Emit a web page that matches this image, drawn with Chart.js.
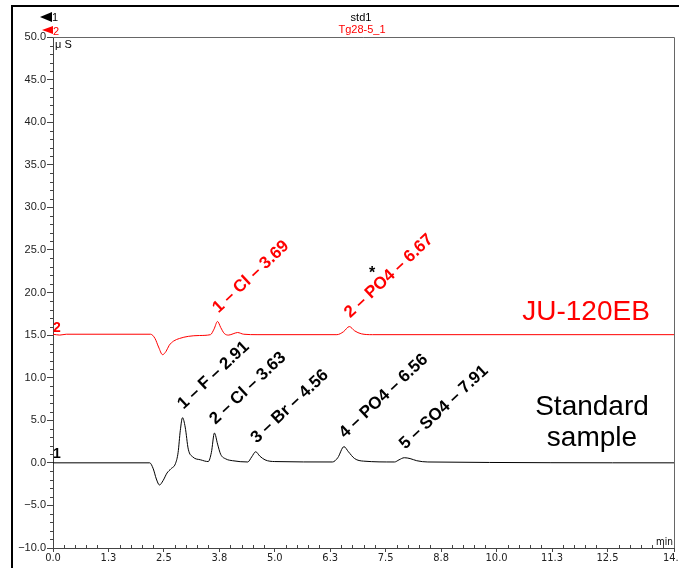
<!DOCTYPE html>
<html><head><meta charset="utf-8">
<script src="https://cdn.jsdelivr.net/npm/chart.js@4.4.1/dist/chart.umd.min.js"></script>
<style>html,body{margin:0;padding:0;background:#fff;}canvas{display:block;}</style>
</head><body>
<canvas id="c" width="679" height="568"></canvas>
<script>
// ---- data ----
const blackTime   = [0, 2.18, 2.26, 2.33, 2.40, 2.48, 2.57, 2.66, 2.76, 2.82, 2.87, 2.92, 2.98, 3.05, 3.15, 3.33, 3.50, 3.57, 3.64, 3.71, 3.78, 3.90, 4.05, 4.39, 4.48, 4.57, 4.66, 4.78, 5.0, 6.3, 6.42, 6.56, 6.66, 6.80, 7.0, 7.7, 7.8, 7.92, 8.05, 8.2, 8.45, 14];
const blackSignal = [0, 0, -0.7, -1.9, -2.6, -2.1, -1.2, -0.7, -0.1, 1.2, 3.8, 5.3, 4.2, 1.6, 0.7, 0.35, 0.15, 1.2, 3.5, 2.2, 1.0, 0.45, 0.25, 0.1, 0.7, 1.3, 0.8, 0.35, 0.15, 0.1, 0.6, 1.9, 1.3, 0.5, 0.2, 0.1, 0.35, 0.6, 0.5, 0.25, 0.1, 0.0];
const redTime     = [0, 0.15, 0.3, 2.2, 2.3, 2.38, 2.47, 2.55, 2.62, 2.72, 2.85, 3.05, 3.3, 3.55, 3.63, 3.71, 3.78, 3.86, 3.96, 4.06, 4.16, 4.30, 4.6, 6.4, 6.55, 6.68, 6.8, 6.95, 7.2, 14];
const redSignal   = [15.1, 15.0, 15.1, 15.1, 14.6, 13.6, 12.7, 13.1, 13.8, 14.3, 14.6, 14.85, 14.95, 15.05, 15.7, 16.6, 15.9, 15.2, 15.0, 15.15, 15.3, 15.1, 15.05, 15.05, 15.4, 16.0, 15.5, 15.15, 15.05, 15.05];

const blackPeakLabels  = ['1 – F – 2.91', '2 – Cl – 3.63', '3 – Br – 4.56', '4 – PO4 – 6.56', '5 – SO4 – 7.91'];
const blackPeakTimes   = [2.92, 3.64, 4.57, 6.56, 7.92];
const blackPeakHeights = [5.3, 3.5, 1.3, 1.9, 0.6];
const redPeakLabels    = ['1 – Cl – 3.69', '2 – PO4 – 6.67'];
const redPeakTimes     = [3.71, 6.68];
const redPeakHeights   = [16.6, 16.0];

const xTickValues = [0, 1.25, 2.5, 3.75, 5, 6.25, 7.5, 8.75, 10, 11.25, 12.5, 14];
const xTickLabels = ['0.0', '1.3', '2.5', '3.8', '5.0', '6.3', '7.5', '8.8', '10.0', '11.3', '12.5', '14.0'];
const yTickValues = [-10, -5, 0, 5, 10, 15, 20, 25, 30, 35, 40, 45, 50];
const yTickLabels = ['−10.0', '−5.0', '0.0', '5.0', '10.0', '15.0', '20.0', '25.0', '30.0', '35.0', '40.0', '45.0', '50.0'];

const seriesNames = ['std1', 'Tg28-5_1'];
const sampleNames = ['JU-120EB', 'Standard', 'sample'];

// ---- chart ----
const AXIS_FONT = "Arial, 'Liberation Sans', sans-serif";
const NARROW_FONT = "'Liberation Sans Narrow', 'DejaVu Sans Condensed', Arial, sans-serif";

const decor = {
  id: 'decor',
  beforeDraw(chart) {
    const ctx = chart.ctx;
    ctx.save();
    ctx.fillStyle = '#fff';
    ctx.fillRect(0, 0, chart.width, chart.height);
    ctx.restore();
  },
  afterDraw(chart) {
    const ctx = chart.ctx;
    const xs = chart.scales.x, ys = chart.scales.y;
    const a = chart.chartArea;
    ctx.save();
    // outer frame
    ctx.fillStyle = '#000';
    ctx.fillRect(11, 5, 668, 2);
    ctx.fillRect(11, 5, 2, 563);
    // plot box top & right
    ctx.strokeStyle = '#666';
    ctx.lineWidth = 1;
    ctx.beginPath();
    ctx.moveTo(a.left, Math.round(a.top) + 0.5);
    ctx.lineTo(Math.round(a.right) + 0.5, Math.round(a.top) + 0.5);
    ctx.lineTo(Math.round(a.right) + 0.5, a.bottom);
    ctx.stroke();
    // minor ticks
    ctx.strokeStyle = '#444';
    ctx.beginPath();
    for (let v = -10; v <= 50; v += 1) {
      if (v % 5 === 0) continue;
      const y = Math.round(ys.getPixelForValue(v)) + 0.5;
      ctx.moveTo(a.left - 3, y); ctx.lineTo(a.left, y);
    }
    for (let v = 0; v <= 14; v += 0.25) {
      if (xTickValues.includes(v)) continue;
      const x = Math.round(xs.getPixelForValue(v)) + 0.5;
      ctx.moveTo(x, a.bottom); ctx.lineTo(x, a.bottom - 3);
    }
    ctx.stroke();

    // peak labels
    const drawPeak = (txt, t, h, color) => {
      const px = xs.getPixelForValue(t), py = ys.getPixelForValue(h);
      ctx.save();
      ctx.translate(px + 1, py - 8);
      ctx.rotate(-43 * Math.PI / 180);
      ctx.fillStyle = color;
      ctx.font = 'bold 17px ' + AXIS_FONT;
      ctx.textAlign = 'left';
      ctx.textBaseline = 'alphabetic';
      ctx.fillText(txt, 0, 0);
      ctx.restore();
    };
    blackPeakLabels.forEach((l, i) => drawPeak(l, blackPeakTimes[i], blackPeakHeights[i], '#000'));
    redPeakLabels.forEach((l, i) => drawPeak(l, redPeakTimes[i], redPeakHeights[i], '#ff0000'));

    // asterisk
    ctx.fillStyle = '#000';
    ctx.font = 'bold 16px ' + AXIS_FONT;
    ctx.textAlign = 'center';
    ctx.fillText('*', 372, 278);

    // sample names
    ctx.font = '28px ' + AXIS_FONT;
    ctx.fillStyle = '#ff0000';
    ctx.fillText(sampleNames[0], 586, 320);
    ctx.fillStyle = '#000';
    ctx.fillText(sampleNames[1], 592, 415);
    ctx.fillText(sampleNames[2], 592, 446);

    // trace numbers
    ctx.textAlign = 'left';
    ctx.font = 'bold 14px ' + AXIS_FONT;
    ctx.fillStyle = '#000';
    ctx.fillText('1', 53, 458);
    ctx.fillStyle = '#ff0000';
    ctx.fillText('2', 53, 332);

    // units
    ctx.fillStyle = '#000';
    ctx.font = '11px ' + AXIS_FONT;
    ctx.fillText('μ S', 55, 48);
    ctx.textAlign = 'right';
    ctx.font = '10px ' + NARROW_FONT;
    ctx.fillText('min', 673, 545);

    // header
    ctx.textAlign = 'center';
    ctx.font = '11px ' + AXIS_FONT;
    ctx.fillStyle = '#000';
    ctx.fillText(seriesNames[0], 361, 21);
    ctx.fillStyle = '#ff0000';
    ctx.fillText(seriesNames[1], 362, 33);

    // trace markers
    ctx.fillStyle = '#000';
    ctx.beginPath(); ctx.moveTo(40, 17); ctx.lineTo(52, 12); ctx.lineTo(52, 22); ctx.closePath(); ctx.fill();
    ctx.textAlign = 'left';
    ctx.font = '11px ' + AXIS_FONT;
    ctx.fillText('1', 52, 21);
    ctx.fillStyle = '#ff0000';
    ctx.beginPath(); ctx.moveTo(42, 30); ctx.lineTo(53, 26); ctx.lineTo(53, 34); ctx.closePath(); ctx.fill();
    ctx.fillText('2', 53, 35);
    ctx.restore();
  }
};

const toXY = (ts, vs) => ts.map((t, i) => ({x: t, y: vs[i]}));

new Chart(document.getElementById('c'), {
  type: 'line',
  data: {
    datasets: [
      { label: seriesNames[1], data: toXY(redTime, redSignal), borderColor: '#ff0000', borderWidth: 1, pointRadius: 0, cubicInterpolationMode: 'monotone', fill: false },
      { label: seriesNames[0], data: toXY(blackTime, blackSignal), borderColor: '#000', borderWidth: 1, pointRadius: 0, cubicInterpolationMode: 'monotone', fill: false }
    ]
  },
  options: {
    responsive: false,
    animation: false,
    devicePixelRatio: 1,
    layout: { padding: { top: 37, right: 5, left: 0, bottom: 0 } },
    plugins: { legend: { display: false }, tooltip: { enabled: false } },
    scales: {
      x: {
        type: 'linear', min: 0, max: 14,
        afterBuildTicks: s => { s.ticks = xTickValues.map(v => ({value: v})); },
        afterFit: s => { s.height = 20; s.paddingLeft = 0; s.paddingRight = 0; },
        grid: { drawOnChartArea: false, drawTicks: true, tickLength: 4, color: '#444' },
        border: { color: '#444', width: 1 },
        ticks: { autoSkip: false, maxRotation: 0, padding: 0, color: '#222',
          font: { family: NARROW_FONT, size: 11 },
          callback: (v, i) => xTickLabels[i] }
      },
      y: {
        type: 'linear', min: -10, max: 50,
        afterBuildTicks: s => { s.ticks = yTickValues.map(v => ({value: v})); },
        afterFit: s => { s.width = 53; s.paddingTop = 0; s.paddingBottom = 0; },
        grid: { drawOnChartArea: false, drawTicks: true, tickLength: 6, color: '#444' },
        border: { color: '#444', width: 1 },
        ticks: { autoSkip: false, padding: 1, color: '#222',
          font: { family: AXIS_FONT, size: 11 },
          callback: (v, i) => yTickLabels[i] }
      }
    }
  },
  plugins: [decor]
});
</script>
</body></html>
